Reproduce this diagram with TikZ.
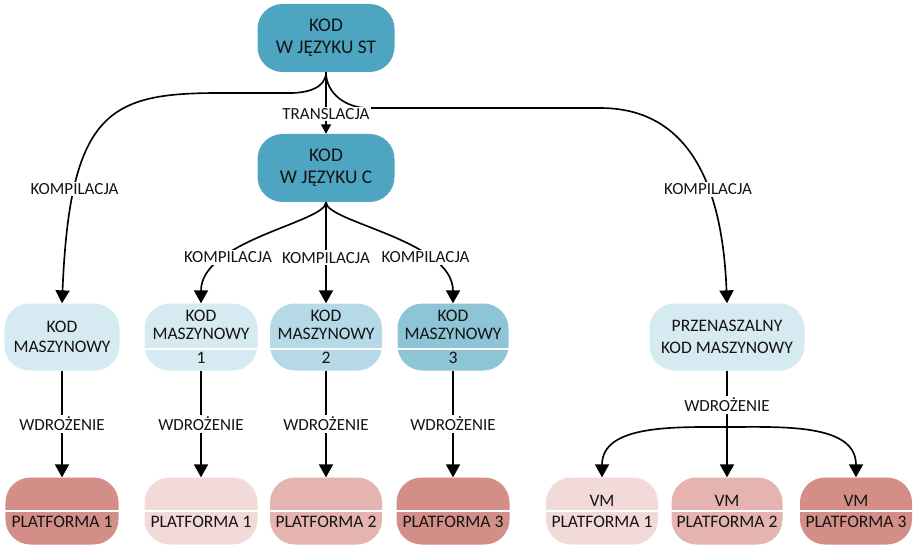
\documentclass[tikz,border=0pt]{standalone}
\usepackage{fontspec}
\setmainfont{Carlito}
\usepackage{tikz}
\usetikzlibrary{calc,arrows.meta}
\definecolor{stblue}{RGB}{77,165,193}
\definecolor{mclight}{RGB}{214,234,242}
\definecolor{mcmid}{RGB}{181,217,230}
\definecolor{mcdark}{RGB}{141,196,214}
\definecolor{pllight}{RGB}{242,218,217}
\definecolor{plmid}{RGB}{229,180,176}
\definecolor{pldark}{RGB}{212,142,136}
\definecolor{ink}{RGB}{20,20,20}
\def\drawarr{\draw[line width=1.4pt, -{Triangle[width=12pt,length=11pt]}]}
\def\drawarrs{\draw[line width=1.4pt, -{Triangle[width=8.5pt,length=8pt]}]}
\def\drawsep{\draw[white, line width=1.6pt]}
\def\boxnode{\node[rounded corners=0.75cm, text=ink, align=center, inner sep=0pt, minimum height=2.01cm]}

\begin{document}
\begin{tikzpicture}[x=0.3mm,y=-0.3mm,font=\fontsize{15}{18}\selectfont,
  lbl/.style={fill=white,text=ink,inner sep=1.5pt,font=\fontsize{14.5}{16}\selectfont}]
\useasboundingbox (0,0) rectangle (915,551);

% -------- source code ---------
\boxnode[fill=stblue, minimum width=4.11cm, minimum height=2.04cm, font=\fontsize{16.5}{19}\selectfont] (st) at (326,38) {KOD\\W JĘZYKU ST};
\boxnode[fill=stblue, minimum width=4.11cm, minimum height=2.04cm, font=\fontsize{16.5}{19}\selectfont] (cn) at (326,168) {KOD\\W JĘZYKU C};

% -------- machine code ---------
\boxnode[fill=mclight, minimum width=3.45cm, font=\fontsize{15}{17}\selectfont] (m0) at (62,337) {KOD\\MASZYNOWY};
\boxnode[fill=mclight, minimum width=3.39cm, font=\fontsize{15}{15.5}\selectfont] (k1) at (201,337) {KOD\\MASZYNOWY\\[5pt]1};
\boxnode[fill=mcmid, minimum width=3.36cm, font=\fontsize{15}{15.5}\selectfont] (k2) at (326,337) {KOD\\MASZYNOWY\\[5pt]2};
\boxnode[fill=mcdark, minimum width=3.33cm, font=\fontsize{15}{15.5}\selectfont] (k3) at (453,337) {KOD\\MASZYNOWY\\[5pt]3};
\boxnode[fill=mclight, minimum width=4.65cm, font=\fontsize{15}{19}\selectfont] (pm) at (727,337) {PRZENASZALNY\\KOD MASZYNOWY};
\foreach \n in {k1,k2,k3} \drawsep ($(\n.west)+(0,12)$) -- ($(\n.east)+(0,12)$);

% -------- platforms ---------
\boxnode[fill=pldark, minimum width=3.39cm] (p0) at (62,511) {\vphantom{VM}\\PLATFORMA 1};
\boxnode[fill=pllight, minimum width=3.39cm] (p1) at (201,511) {\vphantom{VM}\\PLATFORMA 1};
\boxnode[fill=plmid, minimum width=3.36cm] (p2) at (326,511) {\vphantom{VM}\\PLATFORMA 2};
\boxnode[fill=pldark, minimum width=3.39cm] (p3) at (453,511) {\vphantom{VM}\\PLATFORMA 3};
\boxnode[fill=pllight, minimum width=3.36cm] (v1) at (602,511) {VM\\PLATFORMA 1};
\boxnode[fill=plmid, minimum width=3.33cm] (v2) at (727,511) {VM\\PLATFORMA 2};
\boxnode[fill=pldark, minimum width=3.36cm] (v3) at (856,511) {VM\\PLATFORMA 3};
\foreach \n in {p0,p1,p2,p3,v1,v2,v3} \drawsep (\n.west) -- (\n.east);

% -------- out of the ST code ---------
% the two long arms are drawn first, the TRANSLACJA label then covers the right one
\coordinate (lkA) at (290,93);
\coordinate (lkB) at (220,93);
\coordinate (rkA) at (368,108);
\coordinate (rkB) at (600,108);
\drawarr (st.south) to[out=-90,in=0] (lkA) -- (lkB)
  .. controls +(-110,0) and +(8,-193) .. node[lbl,pos=0.75] {KOMPILACJA} (m0.north);
\drawarr (st.south) to[out=-90,in=180] (rkA) -- (rkB)
  .. controls +(80,0) and +(-5,-133) .. node[lbl,pos=0.65] {KOMPILACJA} (pm.north);
\drawarrs (st.south) -- node[lbl,pos=0.68] {TRANSLACJA} (cn.north);

% -------- out of the C code ---------
\drawarr (cn.south) .. controls +(0,20) and +(0,-63) .. node[lbl,pos=0.7] {KOMPILACJA} (k1.north);
\drawarr (cn.south) -- node[lbl,pos=0.55] {KOMPILACJA} (k2.north);
\drawarr (cn.south) .. controls +(0,20) and +(0,-63) .. node[lbl,pos=0.7] {KOMPILACJA} (k3.north);

% -------- deployment ---------
\drawarr (m0.south) -- node[lbl] {WDROŻENIE} (p0.north);
\drawarr (k1.south) -- node[lbl] {WDROŻENIE} (p1.north);
\drawarr (k2.south) -- node[lbl] {WDROŻENIE} (p2.north);
\drawarr (k3.south) -- node[lbl] {WDROŻENIE} (p3.north);
\coordinate (br) at (727,427); % branching point of the VM arms
\drawarr (pm.south) -- node[lbl,pos=0.32] {WDROŻENIE} (v2.north);
\drawarr (br) to[out=180,in=90] (v1.north);
\drawarr (br) to[out=0,in=90] (v3.north);
\end{tikzpicture}
\end{document}
